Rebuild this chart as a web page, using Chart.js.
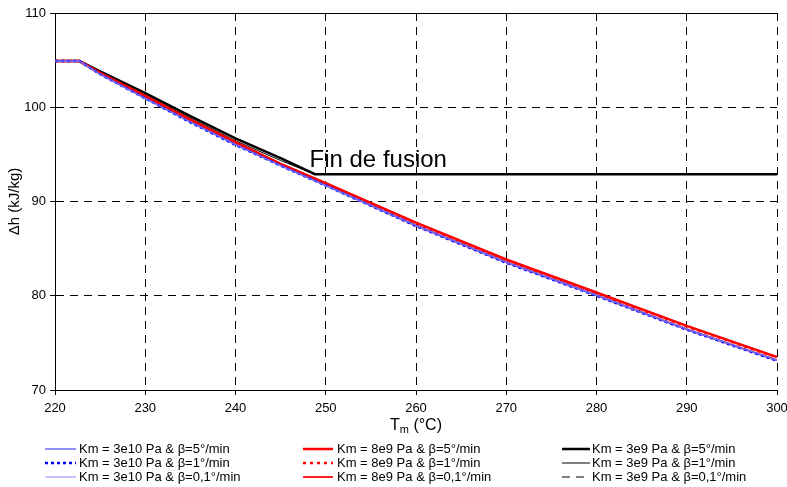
<!DOCTYPE html>
<html>
<head>
<meta charset="utf-8">
<script src="https://cdn.jsdelivr.net/npm/chart.js@4"></script>
<style>
  body { margin: 0; background: #fff; }
  #wrap { width: 787px; height: 487px; }
</style>
</head>
<body>
<div id="wrap"><canvas id="chart" width="787" height="487"></canvas></div>
<script>
//Data
const tempsRB = [220, 222.7, 225, 230, 235, 240, 245, 250, 260, 270, 280, 290, 300];
const tempsBlack = [220, 222.7, 225, 230, 235, 240, 245, 248.8, 260, 270, 280, 290, 300];

const blue5 = [104.9, 104.9, 103.5, 100.95, 98.45, 96.05, 93.8, 91.7, 87.45, 83.55, 80.05, 76.45, 73.15];
const blue1 = [104.9, 104.9, 103.5, 100.95, 98.4, 96.0, 93.8, 91.7, 87.4, 83.5, 80.0, 76.4, 73.1];
const blue01 = [104.9, 104.9, 103.5, 100.9, 98.4, 96.0, 93.8, 91.7, 87.4, 83.5, 80.0, 76.4, 73.1];

const red5 = [104.9, 104.9, 103.65, 101.2, 98.7, 96.3, 94.0, 91.95, 87.75, 83.85, 80.35, 76.8, 73.5];
const red1 = [104.9, 104.9, 103.6, 101.15, 98.65, 96.25, 93.95, 91.9, 87.7, 83.8, 80.3, 76.75, 73.45];
const red01 = [104.9, 104.9, 103.55, 101.0, 98.5, 96.1, 93.85, 91.75, 87.45, 83.55, 80.05, 76.45, 73.15];

const black5 = [104.9, 104.9, 103.8, 101.5, 99.05, 96.7, 94.6, 92.9, 92.9, 92.9, 92.9, 92.9, 92.9];
const black1 = [104.9, 104.9, 103.7, 101.3, 98.85, 96.45, 94.35, 92.9, 92.9, 92.9, 92.9, 92.9, 92.9];
const black01 = [104.9, 104.9, 103.8, 101.5, 99.05, 96.7, 94.6, 92.9, 92.9, 92.9, 92.9, 92.9, 92.9];

const xTicks = [220, 230, 240, 250, 260, 270, 280, 290, 300];
const yTicks = [70, 80, 90, 100, 110];

const annotation = { text: 'Fin de fusion', x: 248.2, y: 93.7 };

//Series: [label, temps, values, color, width, dash, legend column, legend row]
const series = [
    ['Km = 3e10 Pa & β=5°/min', tempsRB, blue5, '#6b6bff', 1.5, [], 0, 0],
    ['Km = 3e10 Pa & β=1°/min', tempsRB, blue1, '#0000ff', 2.5, [3, 3], 0, 1],
    ['Km = 3e10 Pa & β=0,1°/min', tempsRB, blue01, '#8c8cff', 1, [], 0, 2],
    ['Km = 8e9 Pa & β=5°/min', tempsRB, red5, '#ff0000', 2.5, [], 1, 0],
    ['Km = 8e9 Pa & β=1°/min', tempsRB, red1, '#ff0000', 2.5, [3, 4], 1, 1],
    ['Km = 8e9 Pa & β=0,1°/min', tempsRB, red01, '#ff2020', 2, [], 1, 2],
    ['Km = 3e9 Pa & β=5°/min', tempsBlack, black5, '#000000', 2.5, [], 2, 0],
    ['Km = 3e9 Pa & β=1°/min', tempsBlack, black1, '#000000', 1, [], 2, 1],
    ['Km = 3e9 Pa & β=0,1°/min', tempsBlack, black01, '#000000', 1, [8, 6], 2, 2]
];

const datasets = series.map(s => ({
    label: s[0],
    data: s[1].map((t, i) => ({ x: t, y: s[2][i] })),
    borderColor: s[3],
    backgroundColor: s[3],
    borderWidth: s[4],
    borderDash: s[5],
    pointRadius: 0,
    tension: 0,
    fill: false
}));

const font = 'Liberation Sans, Arial, sans-serif';

//Extra drawing: top frame, axis titles, annotation, legend grid
const extras = {
    id: 'extras',
    afterDraw(chart) {
        const c = chart.ctx;
        const area = chart.chartArea;
        const xs = chart.scales.x, ys = chart.scales.y;
        c.save();
        c.strokeStyle = '#000';
        c.lineWidth = 1;
        c.beginPath();
        c.moveTo(area.left, Math.round(area.top) + 0.5);
        c.lineTo(area.right, Math.round(area.top) + 0.5);
        c.stroke();

        c.fillStyle = '#000';
        //annotation
        c.font = '24px ' + font;
        c.textAlign = 'left';
        c.textBaseline = 'alphabetic';
        c.fillText(annotation.text, xs.getPixelForValue(annotation.x), ys.getPixelForValue(annotation.y));

        //y title
        c.save();
        c.translate(15, (area.top + area.bottom) / 2);
        c.rotate(-Math.PI / 2);
        c.font = '15px ' + font;
        c.textAlign = 'center';
        c.textBaseline = 'middle';
        c.fillText('Δh (kJ/kg)', 0, 0);
        c.restore();

        //x title with subscript
        const cx = (area.left + area.right) / 2;
        const base = 430;
        c.font = '16px ' + font;
        const wT = c.measureText('T').width;
        const wRest = c.measureText(' (°C)').width;
        c.font = '11px ' + font;
        const wm = c.measureText('m').width;
        let x0 = cx - (wT + wm + wRest) / 2;
        c.textAlign = 'left';
        c.textBaseline = 'alphabetic';
        c.font = '16px ' + font;
        c.fillText('T', x0, base);
        c.font = '11px ' + font;
        c.fillText('m', x0 + wT, base + 3);
        c.font = '16px ' + font;
        c.fillText(' (°C)', x0 + wT + wm, base);

        //legend
        const colLine = [[45, 76], [303, 333], [562, 590]];
        const colText = [79, 337, 592];
        const rowY = [449, 463, 477];
        c.font = '13px ' + font;
        c.textBaseline = 'middle';
        series.forEach(s => {
            const col = s[6], row = s[7];
            const y = rowY[row];
            c.strokeStyle = s[3];
            c.lineWidth = s[4];
            c.setLineDash(s[5]);
            c.beginPath();
            c.moveTo(colLine[col][0], y);
            c.lineTo(colLine[col][1], y);
            c.stroke();
            c.setLineDash([]);
            c.fillStyle = '#000';
            c.fillText(s[0], colText[col], y);
        });
        c.restore();
    }
};

const config = {
    type: 'line',
    data: { datasets: datasets },
    options: {
        responsive: false,
        animation: false,
        layout: { padding: { top: 13, right: 10, left: 0, bottom: 0 } },
        plugins: {
            legend: { display: false },
            tooltip: { enabled: false }
        },
        scales: {
            x: {
                type: 'linear',
                min: 220,
                max: 300,
                afterBuildTicks: s => { s.ticks = xTicks.map(v => ({ value: v })); },
                afterFit: s => { s.height = 97; s.paddingLeft = 0; s.paddingRight = 0; },
                ticks: { color: '#000', font: { family: font, size: 13 }, padding: 6, maxRotation: 0 },
                grid: { color: '#000', lineWidth: 1, tickLength: 5, tickColor: '#000', tickBorderDash: [] },
                border: { color: '#000', width: 1, dash: [8, 6] }
            },
            y: {
                min: 70,
                max: 110,
                afterBuildTicks: s => { s.ticks = yTicks.map(v => ({ value: v })); },
                afterFit: s => { s.width = 55; s.paddingTop = 0; s.paddingBottom = 0; },
                ticks: { color: '#000', font: { family: font, size: 13 }, padding: 4 },
                grid: { color: '#000', lineWidth: 1, tickLength: 5, tickColor: '#000', tickBorderDash: [] },
                border: { color: '#000', width: 1, dash: [8, 6] }
            }
        }
    },
    plugins: [extras]
};

const chart = new Chart(document.getElementById('chart'), config);
</script>
</body>
</html>
